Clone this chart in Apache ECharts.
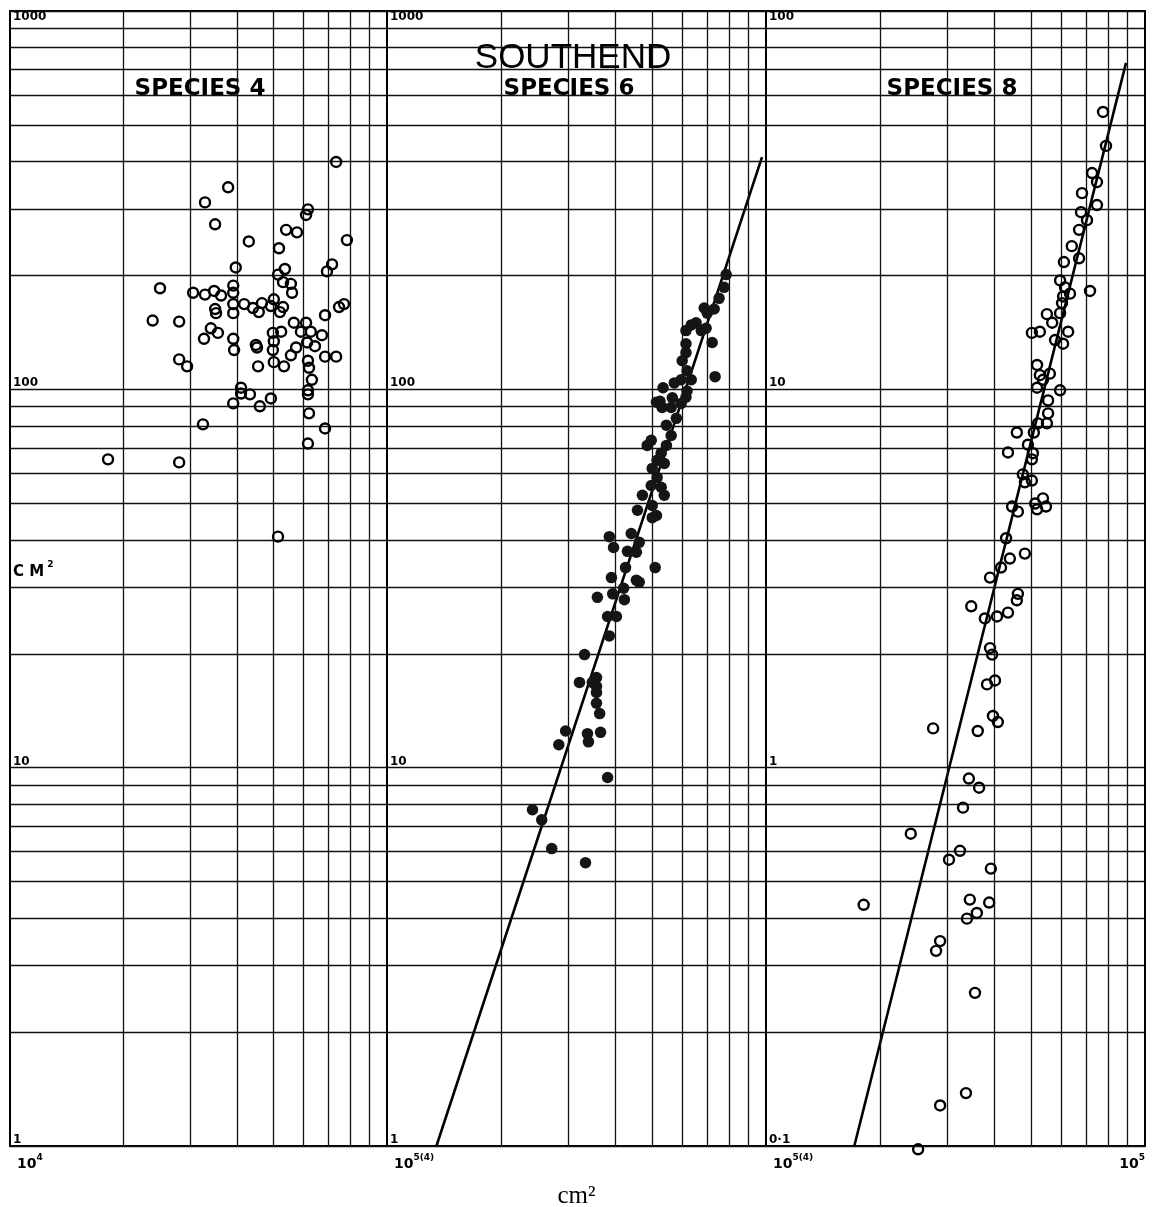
<!DOCTYPE html>
<html>
<head>
<meta charset="utf-8">
<script src="https://cdn.jsdelivr.net/npm/echarts@6/dist/echarts.min.js"></script>
<style>
html,body{margin:0;padding:0;background:#fff;}
#chart{width:1155px;height:1207px;}
</style>
</head>
<body>
<div id="chart"></div>
<script>
// ---- Data (x: area cm2, y: cm2) ----
const mainTitle = 'SOUTHEND';
const panelTitles = ['SPECIES 4', 'SPECIES 6', 'SPECIES 8'];
const yAxisTitle = 'C M';
const xAxisTitle = 'cm²';

const xMinorTicks = [20000, 30000, 40000, 50000, 60000, 70000, 80000, 90000];
const yMinorTicksA = [2,3,4,5,6,7,8,9,20,30,40,50,60,70,80,90,200,300,400,500,600,700,800,900];
const yMinorTicksB = [0.2,0.3,0.4,0.5,0.6,0.7,0.8,0.9,2,3,4,5,6,7,8,9,20,30,40,50,60,70,80,90];
const yTickLabelsA = ['1', '10', '100', '1000'];
const yTickLabelsB = ['0·1', '1', '10', '100'];
const xTickLabels = [['10', '4'], ['10', '5(4)'], ['10', '5(4)', '10', '5']];

const species4 = [
[73300,399],[37900,342],[32900,312],[35000,273],[61700,299],[61000,289],[78300,248],[43000,246],
[54000,264],[57700,260],[51700,236],[39700,210],[71500,214],[69300,205],[53600,208],[51400,201],
[53000,192],[55600,190],[56000,180],[25000,185],[30600,180],[32900,178],[34800,182],[36300,177],
[39100,188],[39100,180],[39100,168],[41800,168],[44100,164],[46600,169],[45700,160],[49200,166],
[50100,173],[53000,165],[52000,160],[35000,163],[35200,159],[39100,159],[74600,165],[76900,168],
[68500,157],[23900,152],[28100,151],[34100,145],[35600,141],[32700,136],[39100,136],[39300,127],
[44900,131],[45200,129],[49800,141],[52400,142],[50100,134],[49800,127],[56600,150],[61000,150],
[59100,142],[62800,142],[61400,133],[64400,130],[67200,139],[57400,129],[55600,123],[68500,122],
[73300,122],[28100,120],[29500,115],[45500,115],[50100,118],[53300,115],[61700,119],[62100,114],
[63200,106],[41000,101],[41000,97.5],[43300,97],[39100,91.8],[46000,90.2],[49200,94.6],[61700,99.4],
[61700,97],[62100,86.4],[68500,78.8],[61700,71.9],[32500,80.8],[18200,65.3],[28100,64.1],[51400,40.8]
];

const species6 = [
[78500,201],[77500,186],[75200,174],[73000,163],[68700,164],[70000,159],[65400,150],[63500,148],
[61500,143],[67500,143],[69500,145],[72100,133],[61500,132],[61500,125],[60100,119],[61900,112],
[73400,108],[63500,106],[59700,106],[57300,104],[53500,101],[61900,99],[61500,95.3],[56600,95],
[59700,91.8],[51400,92.5],[53200,89.6],[56200,89.6],[52500,93],[58000,83.8],[54600,80.4],[56200,75.5],
[49800,73.3],[48600,71.1],[54600,71.1],[52900,67.8],[51600,64.9],[53900,63.7],[50100,61.8],[51600,58.5],
[49800,55.7],[52900,55.1],[47200,52.5],[53900,52.5],[50100,49.3],[45800,47.9],[50100,45.8],[51400,46.4],
[38600,40.8],[39600,38.2],[44100,41.6],[46300,39.4],[43100,37.3],[45500,37.1],[42600,33.8],[51000,33.8],
[39100,31.8],[45500,31.3],[46300,30.9],[42100,29.8],[35900,28.2],[39400,28.8],[42300,27.8],[38200,25.1],
[40300,25.1],[38600,22.3],[33200,19.9],[32200,16.8],[35700,17.3],[34800,16.8],[35700,16.4],[35700,15.8],
[35700,14.8],[36400,13.9],[29600,12.5],[33800,12.3],[34000,11.7],[36600,12.4],[28400,11.5],[38200,9.42],
[24200,7.74],[25600,7.28],[27200,6.11],[33400,5.61]
];

const species8 = [
[77500,54.1],[78900,44.0],[72500,37.3],[74700,35.3],[68200,33.0],[74700,30.7],[67800,29.4],[70300,28.0],
[67000,26.4],[64100,23.9],[67000,22.2],[61100,21.7],[59700,19.4],[61500,18.6],[63400,17.9],[71600,18.2],
[60800,17.6],[60400,16.9],[59700,15.9],[55100,15.8],[56900,15.0],[52800,14.2],[50300,14.1],[62700,14.2],
[57900,13.5],[60800,13.2],[51900,11.6],[52800,10.9],[56100,11.0],[51900,10.1],[53800,10.6],[59700,9.94],
[55500,9.35],[55500,8.64],[52200,8.13],[55100,8.13],[50900,7.69],[45900,7.69],[49100,7.14],[43500,6.81],
[50600,6.78],[50300,6.53],[47600,5.96],[48200,5.68],[50300,5.74],[51300,4.99],[53800,5.15],[54800,4.90],
[51900,4.82],[44600,4.90],[46200,4.75],[43000,4.04],[44000,3.57],[41700,3.38],[48200,3.68],[39000,3.18],
[46200,2.88],[45900,2.77],[34800,2.67],[37800,2.48],[40700,2.51],[43500,2.57],[39000,2.07],[39500,1.99],
[38300,1.66],[40200,1.70],[39700,1.37],[40900,1.32],[27600,1.27],[36200,1.25],[34300,0.936],[36500,0.885],
[33100,0.784],[24100,0.669],[32500,0.603],[30400,0.571],[39200,0.541],[18100,0.434],[34500,0.448],[38800,0.440],
[36000,0.413],[33900,0.399],[28800,0.348],[28100,0.328],[35600,0.254],[33700,0.138],[28800,0.128],[25200,0.098]
];

const fit6 = [[13500, 1], [97600, 411]];
const fit8 = [[17100, 0.1], [89100, 72.9]];

// ---- Chart ----
const chart = echarts.init(document.getElementById('chart'), null, {renderer: 'canvas'});
const INK = '#111';
const gridDefs = [
  {left: 10, top: 11, width: 377, height: 1135},
  {left: 387, top: 11, width: 379, height: 1135},
  {left: 766, top: 11, width: 379, height: 1135}
];
const grids = gridDefs.map(g => Object.assign({
  show: true, borderColor: '#000', borderWidth: 2, backgroundColor: 'transparent',
  containLabel: false, outerBoundsMode: 'none'
}, g));

const richX = {
  b: {fontFamily: 'DejaVu Sans', fontWeight: 'bold', fontSize: 14, color: '#000', lineHeight: 18, verticalAlign: 'bottom'},
  p: {fontFamily: 'DejaVu Sans', fontWeight: 'bold', fontSize: 14, color: '#000', lineHeight: 18, verticalAlign: 'bottom', padding: [0, 0, 0, 7]},
  s: {fontFamily: 'DejaVu Sans', fontWeight: 'bold', fontSize: 9, color: '#000', lineHeight: 18, verticalAlign: 'top'}
};

function xAxisFor(i) {
  return {
    gridIndex: i, type: 'log', logBase: 10, min: 10000, max: 100000,
    axisLine: {show: false}, axisTick: {show: false}, splitLine: {show: false},
    name: i === 1 ? xAxisTitle : '',
    nameLocation: 'middle', nameGap: 38,
    nameTextStyle: {fontFamily: 'Liberation Serif', fontSize: 25, color: '#000'},
    axisLabel: {
      show: true, margin: 7, alignMinLabel: 'left', alignMaxLabel: 'right',
      showMinLabel: true, showMaxLabel: true,
      formatter: function (v, idx) {
        const t = xTickLabels[i];
        if (idx === 0) return '{p|' + t[0] + '}{s|' + t[1] + '}';
        if (idx === 1 && t.length > 2) return '{b|' + t[2] + '}{s|' + t[3] + '}';
        return '';
      },
      rich: richX
    }
  };
}

function yAxisFor(i) {
  const labels = i === 2 ? yTickLabelsB : yTickLabelsA;
  return {
    gridIndex: i, type: 'log', logBase: 10,
    min: i === 2 ? 0.1 : 1, max: i === 2 ? 100 : 1000,
    axisLine: {show: false}, axisTick: {show: false},
    splitLine: {show: true, lineStyle: {color: INK, width: 1.4}},
    axisLabel: {
      inside: true, margin: 3, align: 'left', verticalAlign: 'bottom',
      verticalAlignMaxLabel: 'top', showMinLabel: true, showMaxLabel: true,
      fontFamily: 'DejaVu Sans', fontWeight: 'bold', fontSize: 12, color: '#000',
      formatter: function (v, idx) { return labels[idx] !== undefined ? labels[idx] : ''; }
    },
    z: 3
  };
}

function minorLines(yTicks) {
  return {
    silent: true, symbol: ['none', 'none'], animation: false,
    label: {show: false},
    lineStyle: {color: INK, width: 1.3, type: 'solid', opacity: 1},
    emphasis: {disabled: true},
    data: xMinorTicks.map(v => ({xAxis: v})).concat(yTicks.map(v => ({yAxis: v})))
  };
}

const openStyle = {color: 'rgba(0,0,0,0)', borderColor: '#000', borderWidth: 2.4, opacity: 1};

const option = {
  backgroundColor: '#fff',
  animation: false,
  grid: grids,
  xAxis: [0, 1, 2].map(xAxisFor),
  yAxis: [0, 1, 2].map(yAxisFor),
  series: [
    {type: 'scatter', name: panelTitles[0], xAxisIndex: 0, yAxisIndex: 0, data: species4,
     symbol: 'circle', symbolSize: 10, itemStyle: openStyle, clip: false,
     markLine: minorLines(yMinorTicksA), z: 5},
    {type: 'scatter', name: panelTitles[1], xAxisIndex: 1, yAxisIndex: 1, data: species6,
     symbol: 'circle', symbolSize: 11.5, itemStyle: {color: '#151515', opacity: 1}, clip: false,
     markLine: minorLines(yMinorTicksA), z: 5},
    {type: 'line', xAxisIndex: 1, yAxisIndex: 1, data: fit6, symbol: 'none',
     lineStyle: {color: '#000', width: 2.6}, clip: false, z: 4},
    {type: 'scatter', name: panelTitles[2], xAxisIndex: 2, yAxisIndex: 2, data: species8,
     symbol: 'circle', symbolSize: 10, itemStyle: openStyle, clip: false,
     markLine: minorLines(yMinorTicksB), z: 5},
    {type: 'line', xAxisIndex: 2, yAxisIndex: 2, data: fit8, symbol: 'none',
     lineStyle: {color: '#000', width: 2.6}, clip: false, z: 4}
  ],
  graphic: [
    {type: 'text', x: 573, y: 58, z: 100,
     style: {text: mainTitle, fontFamily: 'Liberation Sans', fontSize: 35, fill: '#000', align: 'center', verticalAlign: 'middle'}},
    {type: 'text', x: 200, y: 89, z: 100,
     style: {text: panelTitles[0], fontFamily: 'DejaVu Sans', fontWeight: 'bold', fontSize: 23, fill: '#000', align: 'center', verticalAlign: 'middle'}},
    {type: 'text', x: 569, y: 89, z: 100,
     style: {text: panelTitles[1], fontFamily: 'DejaVu Sans', fontWeight: 'bold', fontSize: 23, fill: '#000', align: 'center', verticalAlign: 'middle'}},
    {type: 'text', x: 952, y: 89, z: 100,
     style: {text: panelTitles[2], fontFamily: 'DejaVu Sans', fontWeight: 'bold', fontSize: 23, fill: '#000', align: 'center', verticalAlign: 'middle'}},
    {type: 'text', x: 13, y: 570, z: 100,
     style: {text: '{a|' + yAxisTitle + '}{s|2}', align: 'left', verticalAlign: 'middle',
       rich: {
         a: {fontFamily: 'DejaVu Sans', fontWeight: 'bold', fontSize: 15, fill: '#000', lineHeight: 20, verticalAlign: 'bottom'},
         s: {fontFamily: 'DejaVu Sans', fontWeight: 'bold', fontSize: 9, fill: '#000', lineHeight: 20, verticalAlign: 'top', padding: [0, 0, 0, 3]}
       }}}
  ]
};
chart.setOption(option);
</script>
</body>
</html>
